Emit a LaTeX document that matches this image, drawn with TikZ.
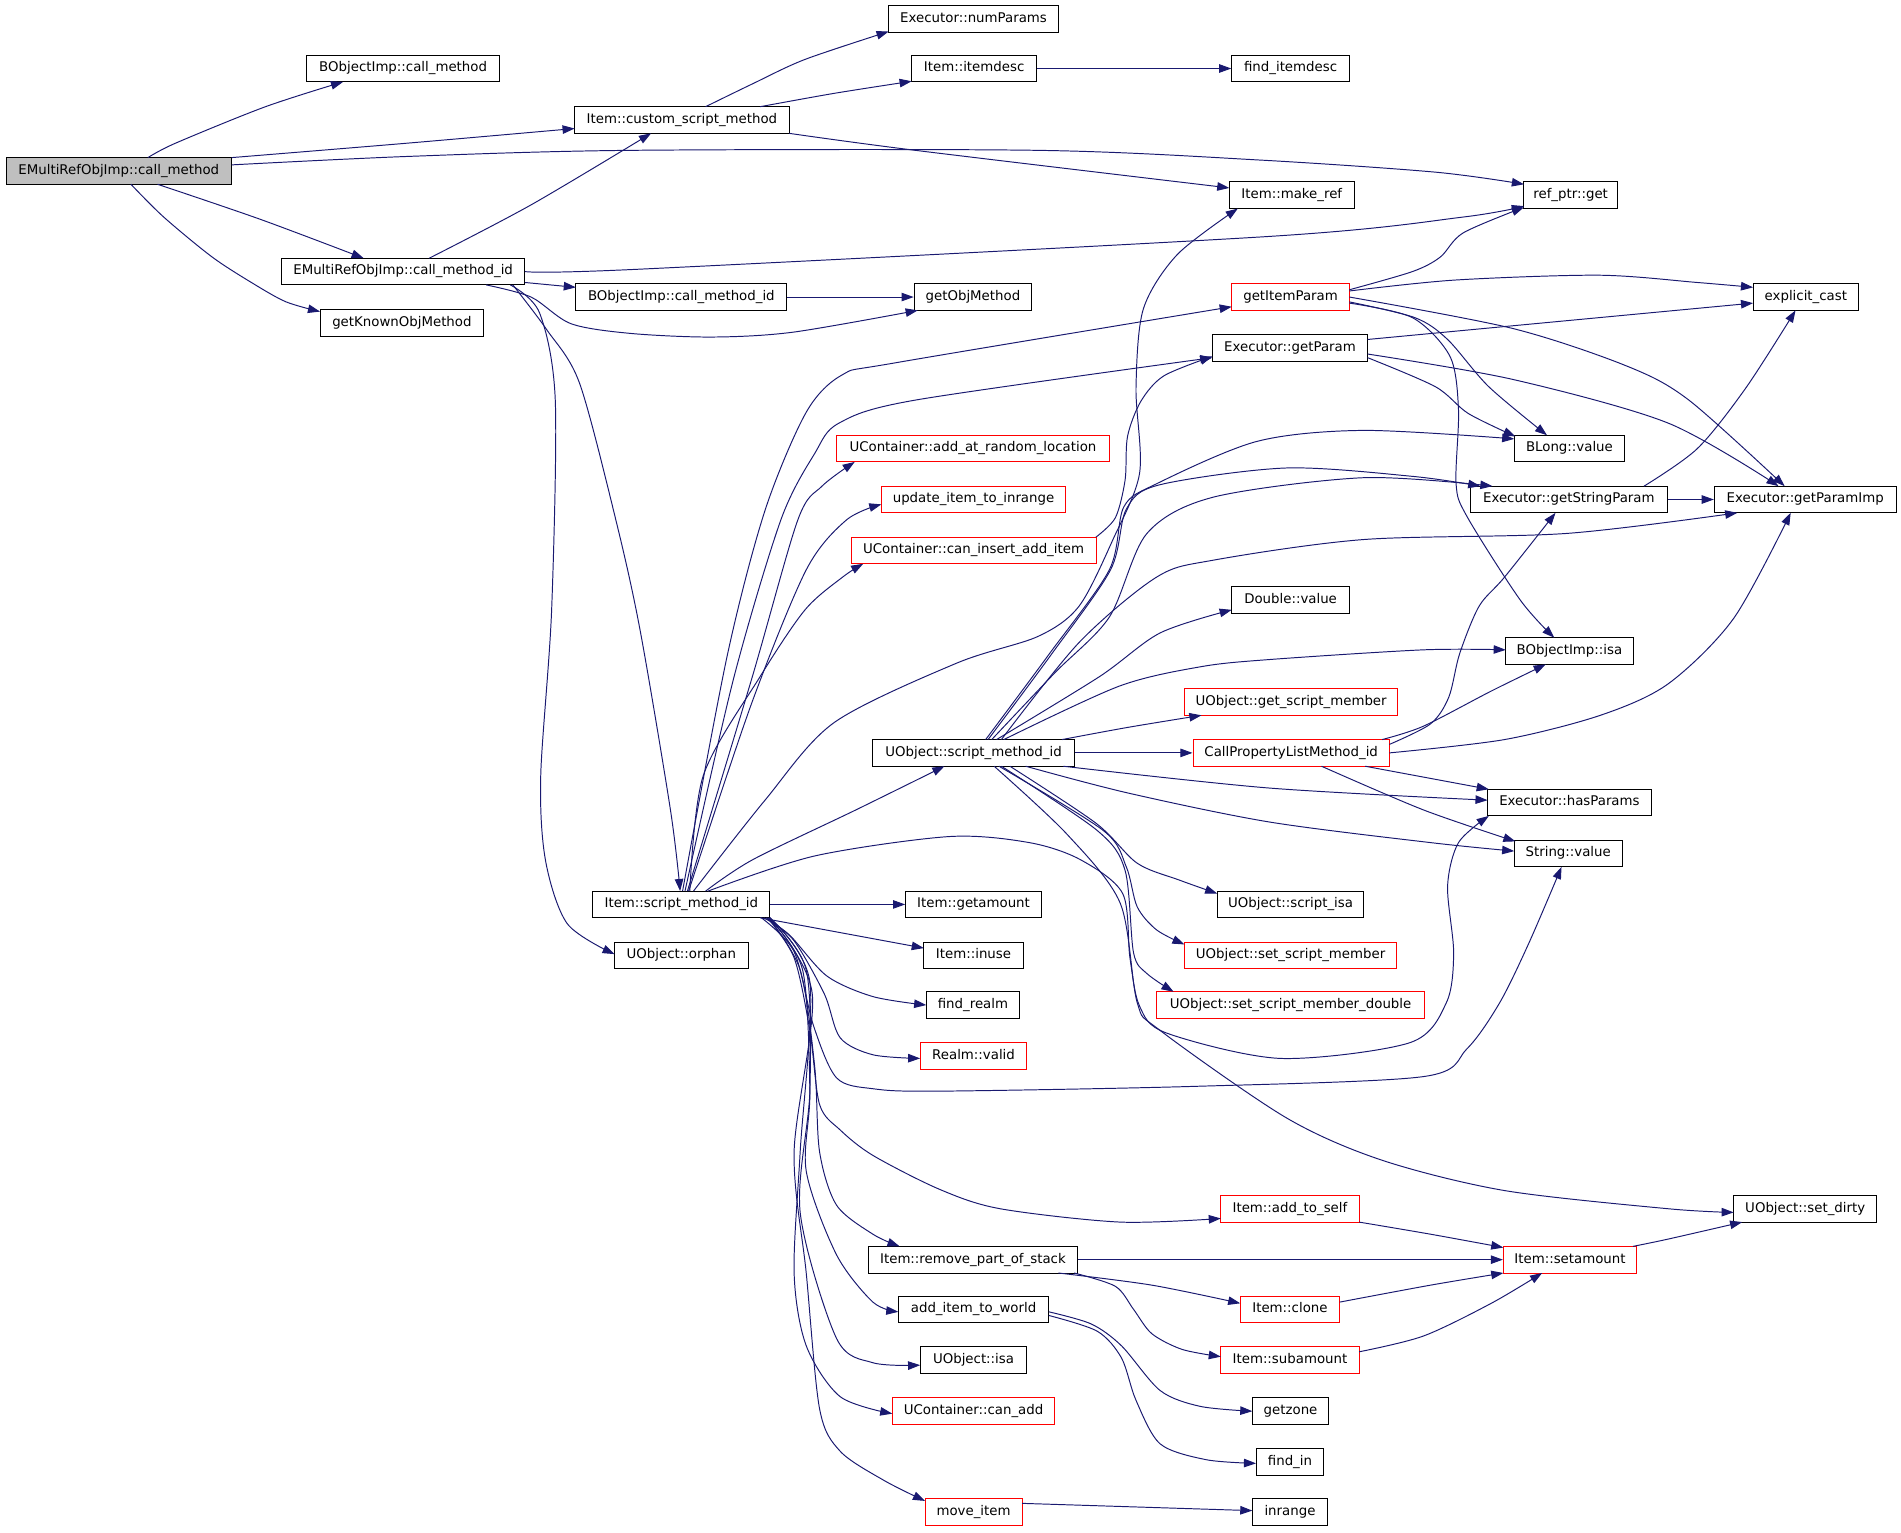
\documentclass[tikz,border=0pt]{standalone}
\usepackage{fontspec}
\setmainfont{DejaVu Sans}
\usetikzlibrary{arrows.meta}
\definecolor{navy}{RGB}{25,25,112}
\definecolor{rootgray}{RGB}{191,191,191}
\begin{document}
\begin{tikzpicture}[x=1pt,y=-1pt,
  nd/.style={draw=black, line width=0.8pt, minimum height=22pt, inner xsep=2pt, inner ysep=0pt,
    font=\fontsize{11}{13}\selectfont, text height=8pt, text depth=2.5pt},
  rd/.style={nd, draw=red},
  edge/.style={draw=navy, line width=0.8pt, -{Triangle[length=10pt,width=7pt]}}]
\useasboundingbox (0,0) rectangle (1568,1264);
\fill[white] (0,0) rectangle (1568,1264);
% nodes
\node[nd, fill=rootgray, minimum width=186pt] (A) at (98,141) {EMultiRefObjImp::call\_method};
\node[nd, minimum width=159pt] (BOcm) at (332.5,56.5) {BObjectImp::call\_method};
\node[nd, minimum width=177pt] (Ccsm) at (562.5,99) {Item::custom\_script\_method};
\node[nd, minimum width=201pt] (D) at (332.5,224) {EMultiRefObjImp::call\_method\_id};
\node[nd, minimum width=135pt] (gKOM) at (331.5,266.5) {getKnownObjMethod};
\node[nd, minimum width=140pt] (numP) at (803,15.5) {Executor::numParams};
\node[nd, minimum width=103pt] (itemdesc) at (803.5,56.5) {Item::itemdesc};
\node[nd, minimum width=97pt] (findid) at (1064.5,56.5) {find\_itemdesc};
\node[nd, minimum width=103pt] (makeref) at (1065.5,161) {Item::make\_ref};
\node[nd, minimum width=77pt] (refget) at (1295.5,161) {ref\_ptr::get};
\node[nd, minimum width=174pt] (BOcmid) at (562,245) {BObjectImp::call\_method\_id};
\node[nd, minimum width=97pt] (getObjM) at (802.5,245) {getObjMethod};
\node[rd, minimum width=97pt] (gIP) at (1064.5,245) {getItemParam};
\node[nd, minimum width=87pt] (expl) at (1489.5,245) {explicit\_cast};
\node[nd, minimum width=128pt] (gP) at (1064,287) {Executor::getParam};
\node[rd, minimum width=225pt] (addrand) at (802.5,370) {UContainer::add\_at\_random\_location};
\node[rd, minimum width=152pt] (upd) at (803,412) {update\_item\_to\_inrange};
\node[rd, minimum width=202pt] (caninsert) at (803,454) {UContainer::can\_insert\_add\_item};
\node[nd, minimum width=91pt] (BLong) at (1294.5,370) {BLong::value};
\node[nd, minimum width=162pt] (gSP) at (1294,412) {Executor::getStringParam};
\node[nd, minimum width=150pt] (gPI) at (1489,412) {Executor::getParamImp};
\node[nd, minimum width=97pt] (Dbl) at (1064.5,495) {Double::value};
\node[nd, minimum width=105pt] (BOisa) at (1294.5,537) {BObjectImp::isa};
\node[rd, minimum width=176pt] (getsm) at (1065,579) {UObject::get\_script\_member};
\node[nd, minimum width=166pt] (U) at (803,621) {UObject::script\_method\_id};
\node[rd, minimum width=162pt] (CPLM) at (1065,621) {CallPropertyListMethod\_id};
\node[nd, minimum width=135pt] (hasP) at (1294.5,662) {Executor::hasParams};
\node[nd, minimum width=89pt] (Strv) at (1293.5,704) {String::value};
\node[nd, minimum width=146pt] (S) at (562,746) {Item::script\_method\_id};
\node[nd, minimum width=112pt] (getamt) at (803,746) {Item::getamount};
\node[nd, minimum width=121pt] (scriptisa) at (1064.5,746) {UObject::script\_isa};
\node[nd, minimum width=110pt] (orphan) at (562,788) {UObject::orphan};
\node[nd, minimum width=82pt] (inuse) at (803,788) {Item::inuse};
\node[rd, minimum width=175pt] (setsm) at (1064.5,788) {UObject::set\_script\_member};
\node[nd, minimum width=77pt] (findrealm) at (802.5,829) {find\_realm};
\node[rd, minimum width=221pt] (setsmd) at (1064.5,829) {UObject::set\_script\_member\_double};
\node[rd, minimum width=88pt] (realm) at (803,871) {Realm::valid};
\node[rd, minimum width=114pt] (addself) at (1064,997) {Item::add\_to\_self};
\node[nd, minimum width=118pt] (setdirty) at (1489,997) {UObject::set\_dirty};
\node[nd, minimum width=173pt] (rmstack) at (802.5,1039) {Item::remove\_part\_of\_stack};
\node[rd, minimum width=110pt] (setamt) at (1295,1039) {Item::setamount};
\node[nd, minimum width=124pt] (additem) at (803,1080) {add\_item\_to\_world};
\node[rd, minimum width=82pt] (clone) at (1064,1080) {Item::clone};
\node[nd, minimum width=88pt] (uisa) at (803,1122) {UObject::isa};
\node[rd, minimum width=114pt] (subamt) at (1064,1122) {Item::subamount};
\node[rd, minimum width=134pt] (canadd) at (803,1164) {UContainer::can\_add};
\node[nd, minimum width=63pt] (getzone) at (1064.5,1164) {getzone};
\node[nd, minimum width=56pt] (findin) at (1064,1206) {find\_in};
\node[rd, minimum width=80pt] (moveitem) at (803,1247) {move\_item};
\node[nd, minimum width=62pt] (inrange) at (1064,1247) {inrange};
% edges from root
\draw[edge] plot[smooth] coordinates {([shift={(24,-11)}]A.center) (145,118) (219,88) ([shift={(-49.5,11)}]BOcm.center)};
\draw[edge] plot[smooth] coordinates {([shift={(93,-11)}]A.center) (337,118) ([shift={(-88.5,7)}]Ccsm.center)};
\draw[edge] plot[smooth] coordinates {([shift={(93,-5)}]A.center) (337,129) (520,124) (856,124) (1039,132) (1184,142) ([shift={(-38.5,-9)}]refget.center)};
\draw[edge] plot[smooth] coordinates {([shift={(32,11)}]A.center) (215,181) ([shift={(-32.5,-11)}]D.center)};
\draw[edge] plot[smooth] coordinates {([shift={(10,11)}]A.center) (135,179) (175,212) (209,234) (236,249) ([shift={(-67.5,-9.5)}]gKOM.center)};
% custom_script_method
\draw[edge] plot[smooth] coordinates {([shift={(19.5,-11)}]Ccsm.center) (621,69) (664,49) ([shift={(-70,10.5)}]numP.center)};
\draw[edge] plot[smooth] coordinates {([shift={(64.5,-11)}]Ccsm.center) (688,77) ([shift={(-51.5,10.5)}]itemdesc.center)};
\draw[edge] plot[smooth] coordinates {([shift={(88.5,11)}]Ccsm.center) (755,124) ([shift={(-51.5,-6)}]makeref.center)};
\draw[edge] (itemdesc) -- (findid);
% call_method_id
\draw[edge] plot[smooth] coordinates {([shift={(21.5,-11)}]D.center) (438,169) ([shift={(-25.5,11)}]Ccsm.center)};
\draw[edge] plot[smooth] coordinates {([shift={(100.5,0)}]D.center) (528,222) (1047,195) (1207,179) ([shift={(-38.5,9)}]refget.center)};
\draw[edge] ([shift={(100.5,9)}]D.center) -- ([shift={(-87,-8)}]BOcmid.center);
\draw[edge] plot[smooth] coordinates {([shift={(68.5,11)}]D.center) (438,245) (471,267) (520,275) (587,278) (654,274) ([shift={(-45.5,11)}]getObjM.center)};
\draw[edge] plot[smooth] coordinates {([shift={(88.5,11)}]D.center) (445,258) (458,330) (455,503) (446,640) (450,710) (468,762) ([shift={(-55,-1)}]orphan.center)};
\draw[edge] plot[smooth] coordinates {([shift={(90.5,11)}]D.center) (451,272) (478,316) (508,429) (528,520) (553,668) ([shift={(-1,-11)}]S.center)};
\draw[edge] (BOcmid) -- (getObjM);
% script_method_id upward
\draw[edge] plot[smooth] coordinates {([shift={(1,-11)}]S.center) (600,540) (631,421) (665,340) (695,309) (740,299) ([shift={(-48.5,8)}]gIP.center)};
\draw[edge] plot[smooth] coordinates {([shift={(3,-11)}]S.center) (605,560) (644,429) (672,374) (692,349) (755,330) ([shift={(-64,8)}]gP.center)};
\draw[edge] plot[smooth] coordinates {([shift={(5,-11)}]S.center) (620,560) (658,429) (678,401) ([shift={(-97.5,11)}]addrand.center)};
\draw[edge] plot[smooth] coordinates {([shift={(6,-11)}]S.center) (620,580) (665,470) (698,429) ([shift={(-76,4)}]upd.center)};
\draw[edge] plot[smooth] coordinates {([shift={(7,-11)}]S.center) (580,640) (627,558) (664,503) (695,476) ([shift={(-91,11)}]caninsert.center)};
\draw[edge] plot[smooth] coordinates {([shift={(10,-11)}]S.center) (631,660) (688,596) (789,547) (856,525) (890,500) (918,445) (940,390) (937,320) (943,255) (971,210) ([shift={(-44.5,11)}]makeref.center)};
\draw[edge] plot[smooth] coordinates {([shift={(101,-11)}]caninsert.center) (920,427) (928,396) (930,360) (941,331) (960,310) ([shift={(-64,7)}]gP.center)};
\draw[edge] plot[smooth] coordinates {([shift={(20,-11)}]S.center) (621,709) (706,668) ([shift={(-24,11)}]U.center)};
\draw[edge] plot[smooth] coordinates {([shift={(22,-11)}]S.center) (672,706) (783,690) (849,695) (891,709) (926,737) (932,790) (940,830) (962,852) (1056,873) (1163,860) (1193,827) (1199,786) (1194,731) (1203,695) ([shift={(-66.5,11)}]hasP.center)};
\draw[edge] plot[smooth] coordinates {([shift={(66,11)}]S.center) (655,785) (671,846) (690,889) (720,898) (775,900) (987,896) (1174,888) (1210,865) (1237,827) (1261,778) ([shift={(-5.5,11)}]Strv.center)};
% UObject::script_method_id
\draw[edge] plot[smooth] coordinates {([shift={(10,-11)}]U.center) (865,540) (915,470) (927,418) (954,399) (1037,364) (1125,355) ([shift={(-45.5,-8)}]BLong.center)};
\draw[edge] plot[smooth] coordinates {([shift={(12,-11)}]U.center) (867,540) (916,470) (929,420) (956,400) (1061,386) (1166,393) ([shift={(-73,-11)}]gSP.center)};
\draw[edge] plot[smooth] coordinates {([shift={(15,-11)}]U.center) (870,555) (915,509) (946,440) (1001,410) (1125,394) ([shift={(-63,-11)}]gSP.center)};
\draw[edge] plot[smooth] coordinates {([shift={(23,-11)}]U.center) (890,530) (954,476) (1001,462) (1125,445) (1292,440) ([shift={(-56,11)}]gPI.center)};
\draw[edge] plot[smooth] coordinates {([shift={(19,-11)}]U.center) (907,558) (957,522) ([shift={(-48.5,8)}]Dbl.center)};
\draw[edge] plot[smooth] coordinates {([shift={(25,-11)}]U.center) (923,566) (990,550) (1047,544) (1174,536) ([shift={(-52.5,-1)}]BOisa.center)};
\draw[edge] plot[smooth] coordinates {([shift={(73,-11)}]U.center) (930,600) ([shift={(-74,11)}]getsm.center)};
\draw[edge] (U) -- (CPLM);
\draw[edge] plot[smooth] coordinates {([shift={(74,11)}]U.center) (1047,650) ([shift={(-67.5,-2)}]hasP.center)};
\draw[edge] plot[smooth] coordinates {([shift={(43,11)}]U.center) (930,654) (1047,678) (1180,695) ([shift={(-44.5,-2)}]Strv.center)};
\draw[edge] plot[smooth] coordinates {([shift={(30,11)}]U.center) (904,679) (938,712) (973,726) ([shift={(-60.5,-9)}]scriptisa.center)};
\draw[edge] plot[smooth] coordinates {([shift={(21,11)}]U.center) (910,685) (929,715) (938,748) (954,767) ([shift={(-87.5,-9)}]setsm.center)};
\draw[edge] plot[smooth] coordinates {([shift={(23,11)}]U.center) (905,685) (928,718) (935,786) (946,803) ([shift={(-96.5,-11)}]setsmd.center)};
\draw[edge] plot[smooth] coordinates {([shift={(17,11)}]U.center) (880,688) (924,745) (938,827) (957,850) (1061,922) (1140,957) (1241,982) (1376,997) ([shift={(-59,3)}]setdirty.center)};
% CallPropertyListMethod_id
\draw[edge] plot[smooth] coordinates {([shift={(75,-11)}]CPLM.center) (1174,599) (1230,570) ([shift={(-19.5,11)}]BOisa.center)};
\draw[edge] plot[smooth] coordinates {([shift={(81,-7)}]CPLM.center) (1180,597) (1195,575) (1204,539) (1220,500) (1241,476) ([shift={(-11,11)}]gSP.center)};
\draw[edge] plot[smooth] coordinates {([shift={(81,0)}]CPLM.center) (1241,610) (1320,590) (1376,564) (1430,510) ([shift={(-12,11)}]gPI.center)};
\draw[edge] ([shift={(61,11)}]CPLM.center) -- ([shift={(-66.5,-11)}]hasP.center);
\draw[edge] plot[smooth] coordinates {([shift={(25,11)}]CPLM.center) (1174,668) ([shift={(-43.5,-10)}]Strv.center)};
% getItemParam
\draw[edge] plot[smooth] coordinates {([shift={(48.5,-6)}]gIP.center) (1165,224) (1188,212) (1207,192) ([shift={(-38.5,10)}]refget.center)};
\draw[edge] plot[smooth] coordinates {([shift={(48.5,-5)}]gIP.center) (1200,231) (1319,227) (1400,233) ([shift={(-43.5,-8)}]expl.center)};
\draw[edge] plot[smooth] coordinates {([shift={(48.5,0)}]gIP.center) (1248,271) (1342,302) (1393,330) ([shift={(-17,-11)}]gPI.center)};
\draw[edge] plot[smooth] coordinates {([shift={(48.5,4)}]gIP.center) (1167,262) (1194,280) (1228,319) ([shift={(-18.5,-11)}]BLong.center)};
\draw[edge] plot[smooth] coordinates {([shift={(48.5,5)}]gIP.center) (1165,262) (1196,294) (1203,338) (1201,399) (1210,426) (1254,495) ([shift={(-12.5,-11)}]BOisa.center)};
% Executor::getParam
\draw[edge] ([shift={(64,-7)}]gP.center) -- ([shift={(-43.5,5)}]expl.center);
\draw[edge] plot[smooth] coordinates {([shift={(64,5)}]gP.center) (1248,313) (1376,349) ([shift={(-22,-11)}]gPI.center)};
\draw[edge] plot[smooth] coordinates {([shift={(64,8)}]gP.center) (1184,319) (1211,341) ([shift={(-44.5,-10)}]BLong.center)};
% getStringParam
\draw[edge] (gSP) -- (gPI);
\draw[edge] plot[smooth] coordinates {([shift={(62,-11)}]gSP.center) (1400,370) (1440,320) ([shift={(-8.5,11)}]expl.center)};
% script_method_id downward bundle
\draw[edge] (S) -- (getamt);
\draw[edge] ([shift={(65,11)}]S.center) -- ([shift={(-41,-6)}]inuse.center);
\draw[edge] plot[smooth] coordinates {([shift={(68,11)}]S.center) (651,771) (682,805) (720,822) ([shift={(-38.5,0)}]findrealm.center)};
\draw[edge] plot[smooth] coordinates {([shift={(70,11)}]S.center) (655,776) (680,820) (693,856) (720,870) ([shift={(-44,2)}]realm.center)};
\draw[edge] plot[smooth] coordinates {([shift={(71,11)}]S.center) (655,790) (668,850) (676,911) (693,932) (720,953) (775,981) (825,997) (924,1008) ([shift={(-57,8)}]addself.center)};
\draw[edge] plot[smooth] coordinates {([shift={(72,11)}]S.center) (660,800) (672,880) (676,950) (690,994) (720,1018) ([shift={(-60.5,-11)}]rmstack.center)};
\draw[edge] plot[smooth] coordinates {([shift={(72,11)}]S.center) (662,800) (668,900) (665,966) (690,1035) (720,1074) ([shift={(-62,2)}]additem.center)};
\draw[edge] plot[smooth] coordinates {([shift={(73,11)}]S.center) (665,800) (668,900) (660,1000) (690,1104) (720,1124) ([shift={(-44,4)}]uisa.center)};
\draw[edge] plot[smooth] coordinates {([shift={(73,11)}]S.center) (668,810) (660,950) (655,1050) (665,1110) (693,1152) ([shift={(-67,2)}]canadd.center)};
\draw[edge] plot[smooth] coordinates {([shift={(73,11)}]S.center) (670,820) (655,950) (665,1050) (676,1162) (693,1197) (729,1221) ([shift={(-40,-9)}]moveitem.center)};
% lower part
\draw[edge] (rmstack) -- (setamt);
\draw[edge] plot[smooth] coordinates {([shift={(70.5,11)}]rmstack.center) (950,1060) ([shift={(-41,-5)}]clone.center)};
\draw[edge] plot[smooth] coordinates {([shift={(83.5,11)}]rmstack.center) (920,1061) (935,1080) (950,1100) (975,1113) ([shift={(-57,-3)}]subamt.center)};
\draw[edge] plot[smooth] coordinates {([shift={(62,2)}]additem.center) (900,1092) (925,1110) (957,1147) (990,1160) ([shift={(-31.5,0)}]getzone.center)};
\draw[edge] plot[smooth] coordinates {([shift={(62,5)}]additem.center) (905,1098) (925,1120) (937,1155) (957,1191) (995,1204) ([shift={(-28,1)}]findin.center)};
\draw[edge] ([shift={(40,-7)}]moveitem.center) -- ([shift={(-31,-1)}]inrange.center);
\draw[edge] plot[smooth] coordinates {([shift={(57,11)}]addself.center) (1180,1018) ([shift={(-55,-10)}]setamt.center)};
\draw[edge] plot[smooth] coordinates {([shift={(41,-6)}]clone.center) (1180,1060) ([shift={(-55,11)}]setamt.center)};
\draw[edge] plot[smooth] coordinates {([shift={(57,-7)}]subamt.center) (1174,1102) (1230,1075) ([shift={(-23,11)}]setamt.center)};
\draw[edge] plot[smooth] coordinates {([shift={(52,-11)}]setamt.center) (1376,1022) ([shift={(-52,11)}]setdirty.center)};
\end{tikzpicture}
\end{document}
